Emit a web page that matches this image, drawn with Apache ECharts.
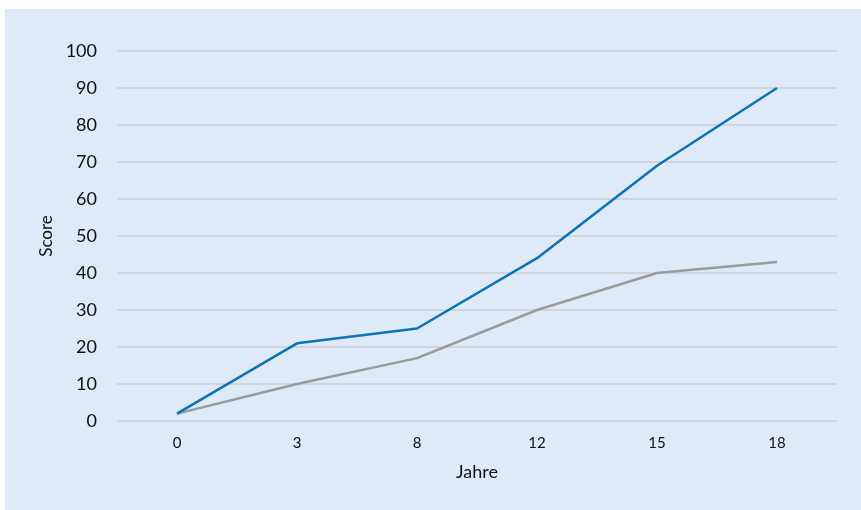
<!DOCTYPE html>
<html>
<head>
<meta charset="utf-8">
<script src="https://cdn.jsdelivr.net/npm/echarts@6/dist/echarts.min.js"></script>
<style>
  html, body { margin: 0; padding: 0; background: #ffffff; }
  #chart { position: absolute; left: 5px; top: 9px; width: 856px; height: 501px; background: #deeaf7; }
</style>
</head>
<body>
<div id="chart"></div>
<script>
// Years on the category axis
const years = ['0', '3', '8', '12', '15', '18'];
// Score curves
const scoreBlue = [2, 21, 25, 44, 69, 90];
const scoreGrey = [2, 10, 17, 30, 40, 43];
// Value axis range
const yMin = 0, yMax = 100, yStep = 10;

const chart = echarts.init(document.getElementById('chart'), null, { renderer: 'canvas' });
const fontFamily = 'Lato, "Open Sans", sans-serif';

chart.setOption({
  backgroundColor: 'transparent',
  animation: false,
  grid: { left: 112, right: 24, top: 42, bottom: 89 },
  xAxis: {
    type: 'category',
    data: years,
    boundaryGap: true,
    name: 'Jahre',
    nameLocation: 'middle',
    nameGap: 42,
    nameTextStyle: { color: '#111111', fontSize: 18, fontFamily },
    axisLine: { show: false },
    axisTick: { show: false },
    axisLabel: { color: '#111111', fontSize: 15, fontFamily, margin: 15 }
  },
  yAxis: {
    type: 'value',
    min: yMin, max: yMax, interval: yStep,
    name: 'Score',
    nameLocation: 'middle',
    nameGap: 62,
    nameRotate: 90,
    nameTextStyle: { color: '#111111', fontSize: 17, fontFamily },
    axisLine: { show: false },
    axisTick: { show: false },
    axisLabel: { color: '#111111', fontSize: 18, fontFamily, margin: 20 },
    splitLine: { lineStyle: { color: '#cccfd3', width: 1.5 } }
  },
  series: [
    {
      type: 'line', data: scoreGrey, symbol: 'none',
      lineStyle: { color: '#9b9b9b', width: 2.5 }
    },
    {
      type: 'line', data: scoreBlue, symbol: 'none',
      lineStyle: { color: '#0b72bb', width: 2.5 }
    }
  ]
});
</script>
</body>
</html>
